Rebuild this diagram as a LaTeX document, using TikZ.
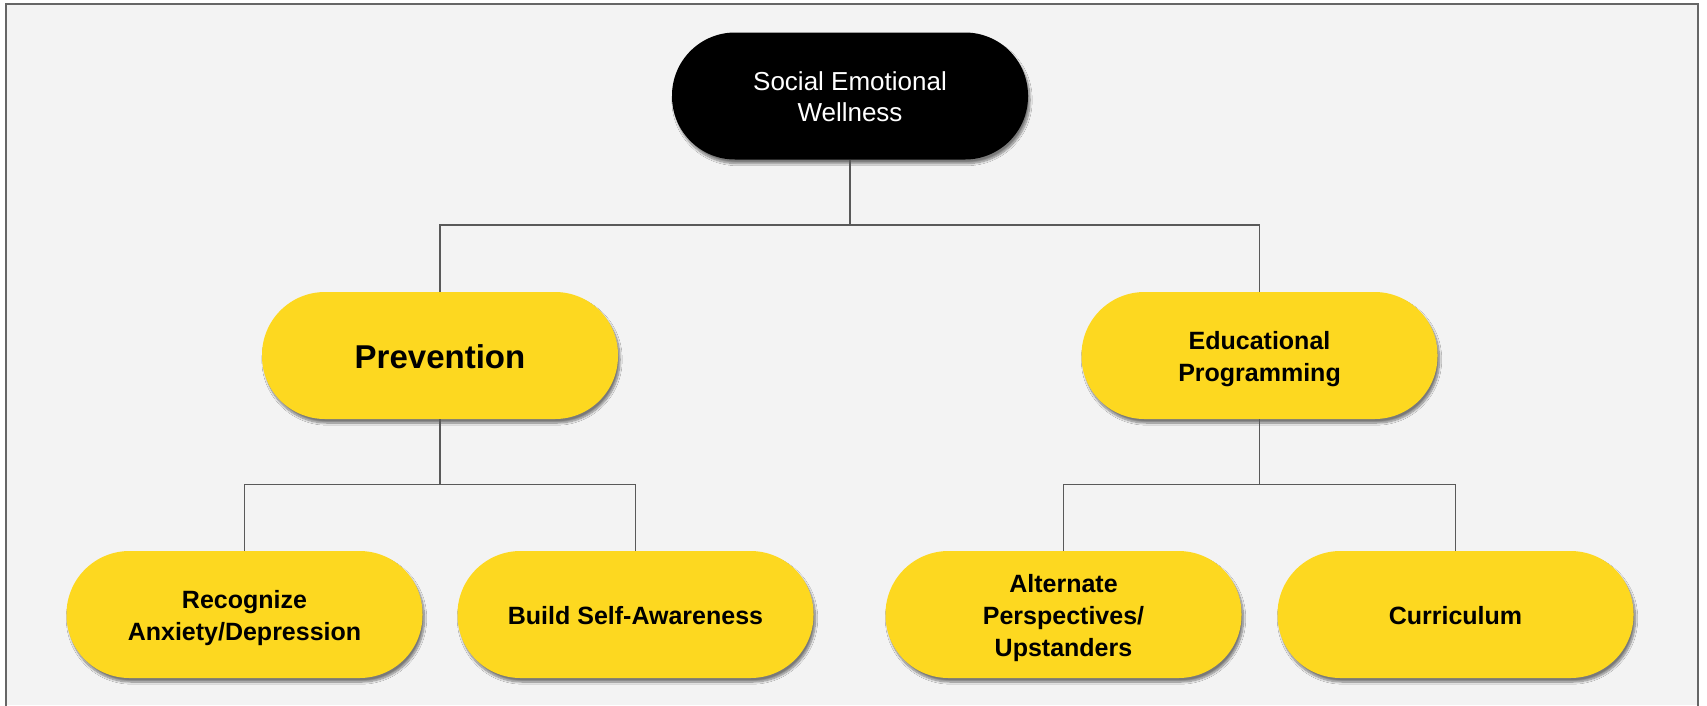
\documentclass[tikz,border=0pt]{standalone}
\usepackage{fontspec}
\setmainfont{Liberation Sans}
\usetikzlibrary{shadows.blur}
\definecolor{bg}{HTML}{F3F3F3}
\definecolor{frame}{HTML}{666666}
\definecolor{conn}{HTML}{595959}
\definecolor{ylw}{HTML}{FDD820}
% #1 = how far the text sits below the centre of its pill
\newcommand\pilltext[2][3.5pt]{\raisebox{0pt}[\dimexpr\height+2\dimexpr#1\relax\relax][\depth]{\begin{tabular}{@{}c@{}}#2\end{tabular}}}
\tikzset{
  pill/.style={rectangle, rounded corners=63pt, minimum width=356pt, minimum height=127pt,
    inner sep=0pt, align=center,
    blur shadow={shadow xshift=2pt, shadow yshift=-4pt, shadow blur steps=10, shadow blur extra rounding=2pt, shadow opacity=50}},
  rootbox/.style={pill, fill=black, text=white, font=\fontsize{26}{31.5}\selectfont},
  midbox/.style={pill, fill=ylw, text=black, font=\fontsize{25}{32}\selectfont\bfseries},
  bigbox/.style={pill, fill=ylw, text=black, font=\fontsize{33}{38}\selectfont\bfseries},
  leafbox/.style={pill, fill=ylw, text=black, font=\fontsize{25}{32}\selectfont\bfseries},
  conn/.style={draw=conn, line width=1.8pt},
}
\begin{document}
\begin{tikzpicture}[x=1pt,y=-1pt]
\useasboundingbox (0,0) rectangle (1707,705);
\fill[bg] (6,4) rectangle (1698,705);
\draw[frame, line width=2pt] (6,710) -- (6,4) -- (1698,4) -- (1698,710);
% nodes
\node[rootbox] (root) at (850,96) {\pilltext{Social Emotional\\Wellness}};
\node[bigbox] (prev) at (440,355.5) {\pilltext[5pt]{Prevention}};
\node[midbox] (edu) at (1259.5,355.5) {\pilltext{Educational\\Programming}};
\node[leafbox] (rec) at (244.5,614.5) {\pilltext{Recognize\\Anxiety/Depression}};
\node[leafbox] (build) at (635.5,614.5) {\pilltext{Build Self-Awareness}};
\node[leafbox] (alt) at (1063.5,614.5) {\pilltext[3.8pt]{Alternate\\Perspectives/\\Upstanders}};
\node[leafbox] (cur) at (1455.5,614.5) {\pilltext[4pt]{Curriculum}};
% hubs
\coordinate (hubA) at (850,225);
\coordinate (hubB) at (440,484.5);
\coordinate (hubC) at (1259.5,484.5);
\draw[conn] (root.south) -- (hubA);
\draw[conn] (prev.north) |- (hubA) -| (edu.north);
\draw[conn] (prev.south) -- (hubB);
\draw[conn] (rec.north) |- (hubB) -| (build.north);
\draw[conn] (edu.south) -- (hubC);
\draw[conn] (alt.north) |- (hubC) -| (cur.north);
\end{tikzpicture}
\end{document}
